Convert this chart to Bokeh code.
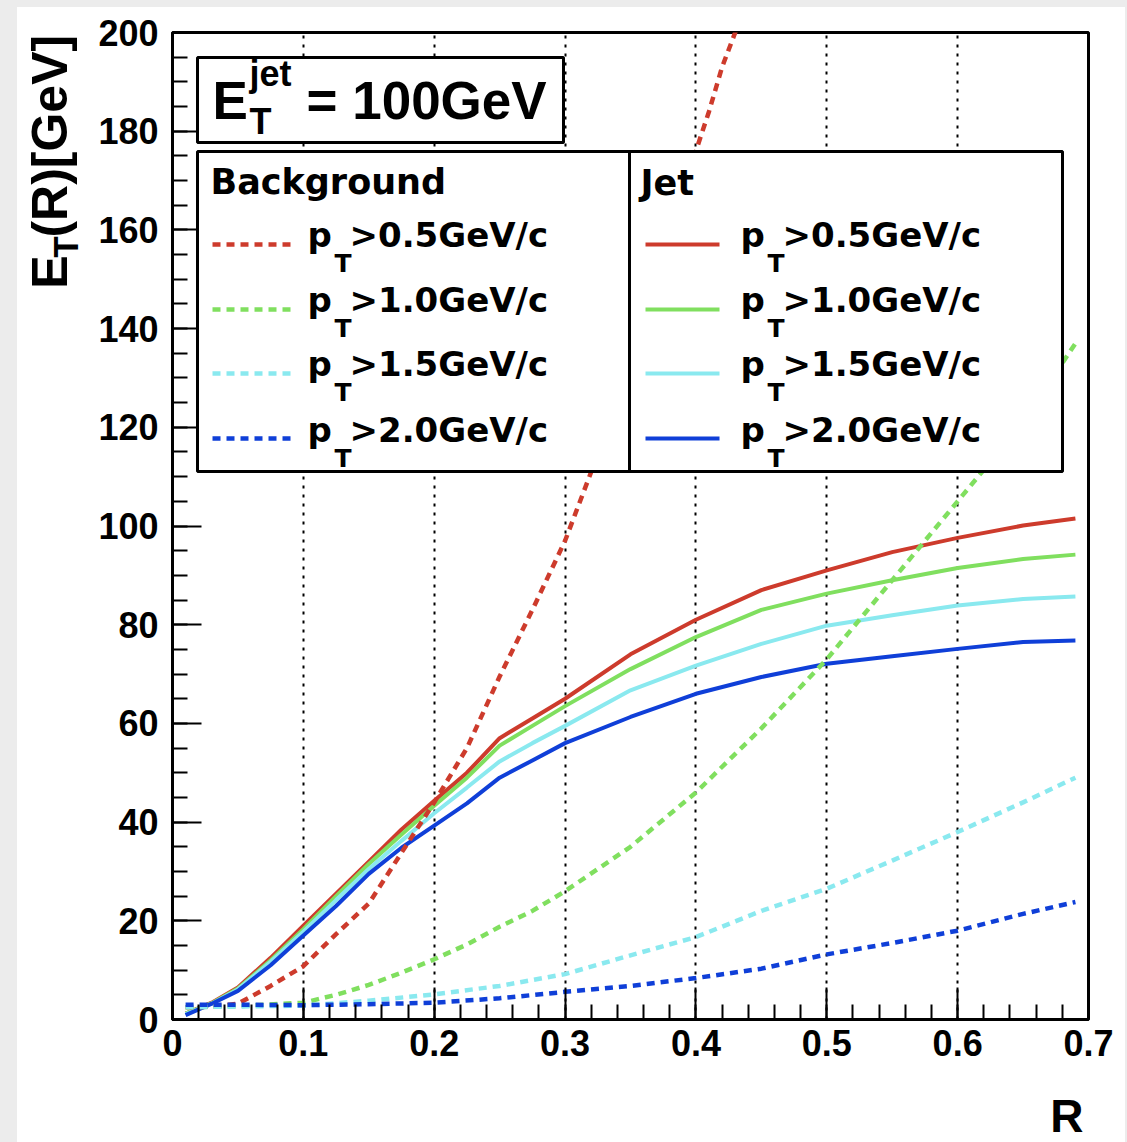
import math
from bokeh.plotting import figure
from bokeh.models import Range1d, FixedTicker, BoxAnnotation, Label, Arrow
from bokeh.layouts import column, row
from bokeh.embed import file_html
from bokeh.resources import INLINE

# ---------------- data ----------------
R_jet = [0.01, 0.03, 0.05, 0.075, 0.1, 0.125, 0.15, 0.175, 0.2, 0.225, 0.25, 0.275,
         0.3, 0.35, 0.4, 0.45, 0.5, 0.55, 0.6, 0.65, 0.69]
jet_pt05 = [1.2, 3.4, 6.5, 12.5, 19.0, 25.5, 32.0, 38.5, 44.3, 50.0, 57.0, 61.0,
            65.0, 74.0, 81.0, 87.0, 91.0, 94.7, 97.6, 100.1, 101.5]
jet_pt10 = [1.2, 3.3, 6.3, 12.0, 18.3, 25.0, 31.5, 37.5, 43.3, 49.0, 55.5, 59.5,
            63.5, 71.0, 77.5, 83.0, 86.3, 89.0, 91.5, 93.3, 94.2]
jet_pt15 = [1.1, 3.2, 6.1, 11.7, 17.8, 24.2, 30.5, 36.2, 41.8, 47.0, 52.3, 56.0,
            59.5, 66.7, 71.7, 76.1, 79.8, 81.9, 83.9, 85.2, 85.7]
jet_pt20 = [0.9, 3.2, 5.8, 11.0, 17.0, 23.0, 29.5, 34.8, 39.3, 43.8, 49.0, 52.5,
            56.0, 61.3, 66.0, 69.4, 72.1, 73.6, 75.1, 76.5, 76.8]

R_bg05 = [0.01, 0.03, 0.05, 0.075, 0.1, 0.125, 0.15, 0.175, 0.2, 0.225, 0.25, 0.275,
          0.3, 0.32, 0.35, 0.38, 0.4, 0.41, 0.42, 0.43, 0.45]
bg_pt05 = [2.5, 2.6, 3.2, 6.8, 10.8, 17.3, 23.5, 33.8, 44.0, 55.0, 69.5, 83.0,
           97.0, 111.0, 134.0, 158.0, 176.0, 184.0, 193.0, 200.0, 212.0]
R_bg10 = [0.01, 0.05, 0.1, 0.125, 0.15, 0.175, 0.2, 0.225, 0.25, 0.275, 0.3, 0.35,
          0.4, 0.45, 0.5, 0.55, 0.6, 0.65, 0.69]
bg_pt10 = [2.5, 2.7, 3.4, 5.0, 7.0, 9.5, 12.2, 15.2, 18.8, 22.0, 26.0, 35.0,
           46.0, 59.0, 73.0, 89.0, 105.0, 121.0, 137.0]
R_bg15 = [0.01, 0.1, 0.15, 0.2, 0.25, 0.3, 0.35, 0.4, 0.45, 0.5, 0.55, 0.6, 0.65, 0.69]
bg_pt15 = [2.5, 2.8, 3.8, 5.1, 6.8, 9.2, 13.0, 16.7, 22.0, 26.5, 32.2, 38.0, 44.0, 49.0]
R_bg20 = [0.01, 0.05, 0.1, 0.15, 0.2, 0.25, 0.3, 0.35, 0.4, 0.45, 0.5, 0.55, 0.6, 0.65, 0.69]
bg_pt20 = [3.0, 3.0, 2.9, 3.1, 3.4, 4.3, 5.6, 6.8, 8.4, 10.3, 13.2, 15.5, 18.0, 21.4, 23.8]

cut_labels = [">0.5GeV/c", ">1.0GeV/c", ">1.5GeV/c", ">2.0GeV/c"]
x_ticks = [0, 0.1, 0.2, 0.3, 0.4, 0.5, 0.6, 0.7]
x_minor = [round(0.02 * i, 2) for i in range(36)]
y_ticks = [0, 20, 40, 60, 80, 100, 120, 140, 160, 180, 200]
y_minor = [5 * i for i in range(41)]

COLORS = ["#cd3b2c", "#80df5f", "#8ae9ef", "#0f3fd8"]

# ---------------- page geometry ----------------
PAGE_L, PAGE_T, PAGE_R = 17, 7, 1125
YLAB_W = 70                  # width of the y-title strip
MAIN_BOTTOM = 1085           # page y where the x-title strip starts
PAGE_B = 1142
FX0, FX1 = 172.0, 1088.0     # frame left/right in page px
FY0, FY1 = 1019.0, 32.0      # frame bottom/top in page px
XMAX, YMAX = 0.7, 200.0
BASE = 0.37                  # baseline correction (fraction of font size)


def dx(px):
    return (px - FX0) / (FX1 - FX0) * XMAX


def dy(py):
    return (FY0 - py) / (FY0 - FY1) * YMAX


main_left = PAGE_L + YLAB_W
p = figure(width=PAGE_R - main_left, height=MAIN_BOTTOM - PAGE_T,
           x_range=Range1d(0, XMAX), y_range=Range1d(0, YMAX),
           output_backend="svg", toolbar_location=None,
           min_border_left=int(FX0 - main_left), min_border_right=int(PAGE_R - FX1),
           min_border_top=int(FY1 - PAGE_T), min_border_bottom=int(MAIN_BOTTOM - FY0))
p.background_fill_color = "white"
p.border_fill_color = "white"
p.outline_line_color = "black"
p.outline_line_width = 3

TICK_FONT = "Liberation Sans"
for ax in (p.xaxis[0], p.yaxis[0]):
    ax.axis_line_width = 3
    ax.axis_line_color = "black"
    ax.major_tick_out = 0
    ax.minor_tick_out = 0
    ax.major_tick_line_width = 2
    ax.minor_tick_line_width = 2
    ax.major_tick_line_color = "black"
    ax.minor_tick_line_color = "black"
    ax.major_label_text_font = TICK_FONT
    ax.major_label_text_font_style = "bold"
    ax.major_label_text_font_size = "36px"
    ax.major_label_text_color = "black"

p.xaxis.ticker = FixedTicker(ticks=x_ticks, minor_ticks=x_minor)
p.xaxis.major_tick_in = 32
p.xaxis.minor_tick_in = 15
p.xaxis.major_label_standoff = 10
p.xaxis.major_label_overrides = {0: "0"}

p.yaxis.ticker = FixedTicker(ticks=y_ticks, minor_ticks=y_minor)
p.yaxis.major_tick_in = 29
p.yaxis.minor_tick_in = 15
p.yaxis.major_label_standoff = 14

p.xgrid.ticker = FixedTicker(ticks=x_ticks)
p.xgrid.grid_line_color = "black"
p.xgrid.grid_line_dash = "3 6"
p.xgrid.grid_line_width = 2
p.ygrid.visible = False

# ---------------- curves ----------------
jets = [jet_pt05, jet_pt10, jet_pt15, jet_pt20]
bgs = [(R_bg05, bg_pt05), (R_bg10, bg_pt10), (R_bg15, bg_pt15), (R_bg20, bg_pt20)]
DASH = "8 6"
for ys, c in zip(jets, COLORS):
    p.line(R_jet, ys, line_color=c, line_width=4)
for (xs, ys), c in zip(bgs, COLORS):
    p.line(xs, ys, line_color=c, line_width=4.5, line_dash=DASH)

# ---------------- boxes ----------------
p.add_layout(BoxAnnotation(left=dx(197), right=dx(563), top=dy(57), bottom=dy(142),
                           fill_color="white", fill_alpha=1.0, line_color="black",
                           line_width=3, line_alpha=1.0))
p.add_layout(BoxAnnotation(left=dx(197), right=dx(1062), top=dy(151), bottom=dy(471),
                           fill_color="white", fill_alpha=1.0, line_color="black",
                           line_width=3, line_alpha=1.0))
p.add_layout(Arrow(x_start=dx(629), y_start=dy(151), x_end=dx(629), y_end=dy(471),
                   start=None, end=None, line_color="black", line_width=3))


def mk_label(x, y, text, size, font, align, angle):
    return Label(x=x, y=y, text=text, text_font=font, text_font_style="bold",
                 text_font_size=f"{size}px", text_align=align,
                 text_baseline="alphabetic", text_color="black", angle=angle)


def label(px, py, text, size, font="Liberation Sans", align="left"):
    # px, py: page pixel of the text's start / baseline
    p.add_layout(mk_label(dx(px), dy(py - BASE * size), text, size, font, align, 0.0))


# title box text
label(212, 120, "E", 53)
label(249, 134, "T", 36)
label(249, 86, "jet", 36)
label(306, 120, "= 100GeV", 53)

# legend
LEG_FONT = "DejaVu Sans"
label(210, 194, "Background", 35, LEG_FONT)
label(640, 195, "Jet", 35, LEG_FONT)
row_base = [247, 312, 376, 442]
row_line = [244, 309, 373, 438]
for i, (c, txt) in enumerate(zip(COLORS, cut_labels)):
    p.add_layout(Arrow(x_start=dx(212), y_start=dy(row_line[i]), x_end=dx(290),
                       y_end=dy(row_line[i]), start=None, end=None, line_color=c,
                       line_width=4.5, line_dash=DASH))
    label(307, row_base[i], "p", 34, LEG_FONT)
    label(334, row_base[i] + 25, "T", 25, LEG_FONT)
    label(349, row_base[i], txt, 34, LEG_FONT)
    p.add_layout(Arrow(x_start=dx(645), y_start=dy(row_line[i]), x_end=dx(719),
                       y_end=dy(row_line[i]), start=None, end=None, line_color=c,
                       line_width=4))
    label(740, row_base[i], "p", 34, LEG_FONT)
    label(767, row_base[i] + 25, "T", 25, LEG_FONT)
    label(782, row_base[i], txt, 34, LEG_FONT)


# ---------------- strip figures for the axis titles ----------------
def strip(x0, x1, y0, y1):
    f = figure(width=x1 - x0, height=y1 - y0, x_range=Range1d(x0, x1),
               y_range=Range1d(y1, y0), output_backend="svg", toolbar_location=None,
               x_axis_type=None, y_axis_type=None, min_border=0,
               min_border_left=0, min_border_right=0, min_border_top=0,
               min_border_bottom=0)
    f.outline_line_color = None
    f.background_fill_color = "white"
    f.border_fill_color = "white"
    f.xgrid.visible = False
    f.ygrid.visible = False
    return f


ylab = strip(PAGE_L, main_left, PAGE_T, MAIN_BOTTOM)
ROT = math.pi / 2


def vlabel(px, py, text, size):
    # rotated text: baseline along x = px, starting at y = py going upward
    ylab.add_layout(mk_label(px - BASE * size, py, text, size, "Liberation Sans", "left", ROT))


vlabel(68, 287, "E", 50)
vlabel(78, 253, "T", 35)
vlabel(68, 231, "(R)[GeV]", 50)

xlab = strip(PAGE_L, PAGE_R, MAIN_BOTTOM, PAGE_B)
xlab.add_layout(mk_label(1083, 1133 - BASE * 46, "R", 46, "Liberation Sans", "right", 0.0))

GRAY = "#ececec"
layout = column(row(ylab, p, styles={"background-color": "white"}), xlab,
                styles={"background-color": "white",
                        "border-left": f"17px solid {GRAY}",
                        "border-top": f"7px solid {GRAY}",
                        "border-right": f"2px solid {GRAY}"})

with open("out.html", "w") as f:
    f.write(file_html(layout, INLINE))
